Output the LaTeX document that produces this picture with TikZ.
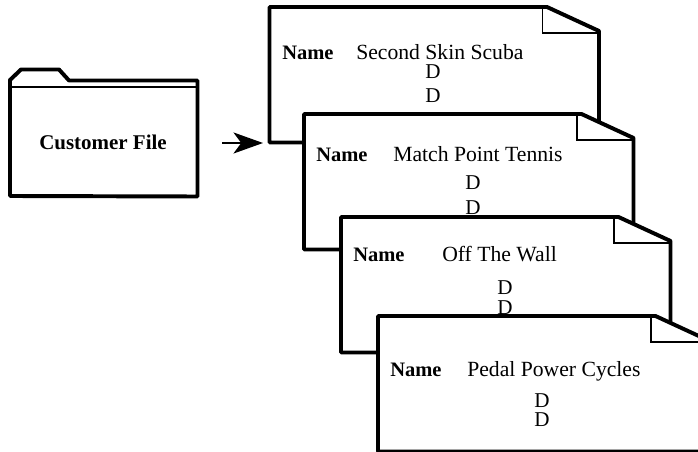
\documentclass[tikz,border=0pt]{standalone}
\usepackage{fontspec}
\setmainfont{Liberation Serif}
\usepackage{xcolor}
\usetikzlibrary{arrows.meta}

\begin{document}
\begin{tikzpicture}[
    x=0.025cm,y=-0.025cm,
    outline/.style={draw,line width=2.8pt,line join=round,fill=white},
    crease/.style={draw,line width=0.75pt},
    label/.style={inner sep=0pt,anchor=base west,font=\fontsize{14.6pt}{17pt}\selectfont\bfseries},
    entry/.style={inner sep=0pt,anchor=base west,font=\fontsize{15.4pt}{18pt}\selectfont},
    letter/.style={inner sep=0pt,anchor=base,font=\fontsize{15pt}{18pt}\selectfont},
    flow/.style={-{Stealth[length=21pt,width=15pt,inset=5.5pt]},line width=1.1pt}
  ]
    \useasboundingbox (0,0) rectangle (698,452);
    \clip (0,0) rectangle (698,452);

    % folder with its tab
    \path[outline] (10,196) -- (10,80) -- (21,69.5) -- (59,69.5) -- (69,80.5)
      -- (197.5,80.5) -- (197.5,196.5) -- cycle;
    \draw[crease] (10,87) -- (197.5,87);
    \node[label,font=\fontsize{14.9pt}{17pt}\selectfont\bfseries] (customer) at (39,149.5) {Customer File};

    \coordinate (tail) at (222,143);
    \coordinate (head) at (263,143);
    \draw[flow] (tail) -- (head);

    % sheets, back to front; the next one hides the lower part of the last
    \foreach \sheet/\sx/\sy/\firm/\nx/\fx/\ty/\dx/\da/\db in {
      a/269.5/7/Second Skin Scuba/282/356/60/433/79/103,
      b/304/114/Match Point Tennis/316/393/162/473/190/215,
      c/341/217/Off The Wall/353/442/262/505/295/315,
      d/378/316/Pedal Power Cycles/390/467/376/542/407/427}{
      \path[outline] (\sx,\sy) -- ++(277.5,0) -- ++(52,24) -- ++(0,111.5)
        -- ++(-329.5,0) -- cycle;
      \draw[crease] (\sx+273,\sy+1) -- ++(0,25) -- ++(55,0);
      \node[label] (name\sheet) at (\nx,\ty) {Name};
      \node[entry] (firm\sheet) at (\fx,\ty) {\firm};
      \node[letter] (upper\sheet) at (\dx,\da) {D};
      \node[letter] (lower\sheet) at (\dx,\db) {D};
    }
  \end{tikzpicture}
\end{document}
